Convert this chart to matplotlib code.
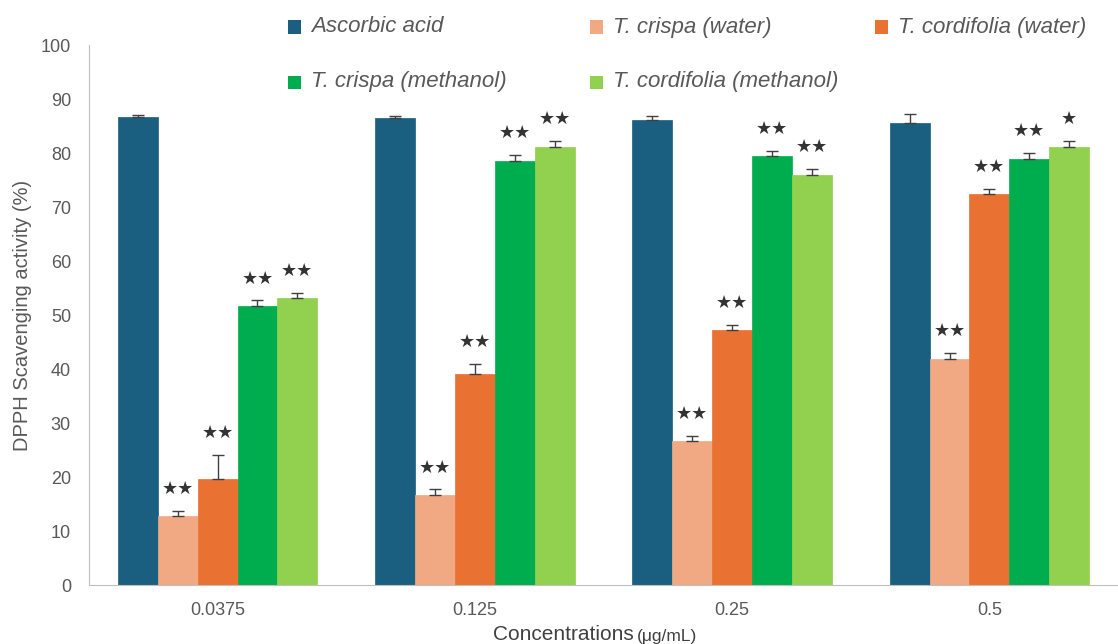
import matplotlib.pyplot as plt
import numpy as np
from matplotlib.patches import Rectangle

concentrations = ["0.0375", "0.125", "0.25", "0.5"]
series_names = ["Ascorbic acid", "T. crispa (water)", "T. cordifolia (water)",
                "T. crispa (methanol)", "T. cordifolia (methanol)"]
series_colors = ["#1a5e80", "#f1a983", "#e97132", "#00ad4e", "#92d050"]

ascorbic_acid = [86.7, 86.4, 86.1, 85.5]
crispa_water = [12.7, 16.7, 26.7, 41.8]
cordifolia_water = [19.6, 39.0, 47.3, 72.5]
crispa_methanol = [51.7, 78.6, 79.4, 78.8]
cordifolia_methanol = [53.1, 81.2, 76.0, 81.1]

ascorbic_acid_err = [0.3, 0.45, 0.8, 1.7]
crispa_water_err = [1.0, 1.0, 0.9, 1.1]
cordifolia_water_err = [4.5, 1.9, 0.8, 0.8]
crispa_methanol_err = [1.0, 1.0, 1.0, 1.2]
cordifolia_methanol_err = [1.0, 1.0, 1.0, 1.1]

significance = [
    ["", "", "", ""],
    ["**", "**", "**", "**"],
    ["**", "**", "**", "**"],
    ["**", "**", "**", "**"],
    ["**", "**", "**", "*"],
]

values = [ascorbic_acid, crispa_water, cordifolia_water, crispa_methanol, cordifolia_methanol]
errors = [ascorbic_acid_err, crispa_water_err, cordifolia_water_err,
          crispa_methanol_err, cordifolia_methanol_err]

plt.rcParams['font.family'] = ['Liberation Sans', 'DejaVu Sans']
text_gray = "#595959"

W, H = 1118, 644
fig = plt.figure(figsize=(W / 100, H / 100), dpi=100)
ax = fig.add_axes([89 / W, 1 - 585 / H, 1 - 89 / W, (585 - 45) / H])

x = np.arange(len(concentrations))
width = 0.155
for i, (vals, errs, color) in enumerate(zip(values, errors, series_colors)):
    pos = x + (i - 2) * width
    ax.bar(pos, vals, width, color=color, edgecolor=color, linewidth=0.5, zorder=2)
    ax.errorbar(pos, vals, yerr=[np.zeros(len(errs)), errs], fmt="none",
                ecolor="#404040", elinewidth=1.0, capsize=4, capthick=1.0, zorder=3)
    for p, v, e, s in zip(pos, vals, errs, significance[i]):
        if s:
            star_text = "\u2605" * len(s)
            ax.text(p, v + e + 2.4, star_text, ha="center", va="bottom",
                    fontsize=13, color="#333333", family="DejaVu Sans")

ax.set_xlim(-0.5, 3.5)
ax.set_ylim(0, 100)
ax.set_yticks(np.arange(0, 101, 10))
ax.set_xticks(x)
ax.set_xticklabels(concentrations)
ax.tick_params(axis="both", length=0, labelsize=13, labelcolor=text_gray)
ax.tick_params(axis="x", pad=12)
ax.tick_params(axis="y", pad=13)
for side in ["top", "right"]:
    ax.spines[side].set_visible(False)
ax.spines["left"].set_color("#bfbfbf")
ax.spines["bottom"].set_color("#bfbfbf")

ax.set_ylabel("DPPH Scavenging activity (%)", fontsize=14.5, color=text_gray, labelpad=6)
fig.text(634 / W, 1 - 634 / H, "Concentrations", fontsize=15,
         color="#404040", ha="right", va="center")
fig.text(637 / W, 1 - 636 / H, "(\u03bcg/mL)", fontsize=12.5,
         color="#404040", ha="left", va="center")

# Legend drawn as coloured squares with italic labels in two rows
legend_slots = [(294, 27), (596, 27), (881, 27), (294, 82), (596, 82)]
for (px, py), name, color in zip(legend_slots, series_names, series_colors):
    sq = 13
    fig.patches.append(Rectangle(((px - sq / 2) / W, 1 - (py + sq / 2) / H),
                                 sq / W, sq / H, transform=fig.transFigure,
                                 facecolor=color, edgecolor="none"))
    fig.text((px + 17) / W, 1 - py / H, name, fontsize=16,
             style="italic", color=text_gray, ha="left", va="center")

fig.savefig("out.png", dpi=100)
